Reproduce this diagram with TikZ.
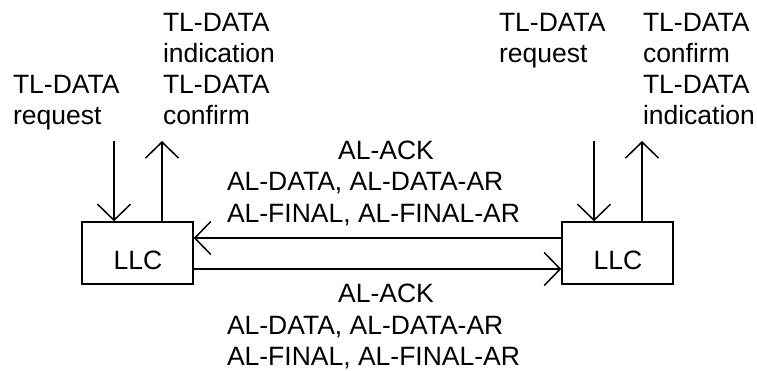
\documentclass[tikz,border=0pt]{standalone}
\usepackage{fontspec}
\setmainfont{Liberation Sans}
\usetikzlibrary{arrows.meta}
\begin{document}
\begin{tikzpicture}[x=1pt,y=-1pt,
  lbl/.style={inner sep=0pt,outer sep=0pt,font=\fontsize{26.5}{31}\selectfont,anchor=base west},
  lblc/.style={lbl,anchor=base},
  llcbox/.style={draw,line width=1.5pt,inner sep=0pt},
  flow/.style={line width=1.5pt,-{Straight Barb[length=16pt,width=33pt,line width=1.5pt]}}]
\useasboundingbox (0,0) rectangle (757,370);
% boxes
\node[llcbox,minimum width=111pt,minimum height=62pt] (L) at (137.5,253) {};
\node[llcbox,minimum width=111pt,minimum height=62pt] (R) at (617.5,253) {};
\node[lblc] (Lt) at (138,269) {LLC};
\node[lblc] (Rt) at (618,269) {LLC};
% vertical arrows
\coordinate (La) at (114,141);
\coordinate (Lb) at (162,141);
\coordinate (Ra) at (594,141);
\coordinate (Rb) at (642,141);
\draw[flow] (La) -- (La |- L.north);
\draw[flow] (Lb |- L.north) -- (Lb);
\draw[flow] (Ra) -- (Ra |- R.north);
\draw[flow] (Rb |- R.north) -- (Rb);
% horizontal arrows
\draw[flow] (R.west |- 0,238) -- (L.east |- 0,238);
\draw[flow] (L.east |- 0,269) -- (R.west |- 0,269);
% left labels
\node[lbl] (l1a) at (13,93) {TL-DATA};
\node[lbl] (l1b) at (13,124) {request};
\node[lbl] (l2a) at (163,31) {TL-DATA};
\node[lbl] (l2b) at (163,62) {indication};
\node[lbl] (l2c) at (163,93) {TL-DATA};
\node[lbl] (l2d) at (163,124) {confirm};
% right labels
\node[lbl] (r1a) at (499,31) {TL-DATA};
\node[lbl] (r1b) at (499,62) {request};
\node[lbl] (r2a) at (643,31) {TL-DATA};
\node[lbl] (r2b) at (643,62) {confirm};
\node[lbl] (r2c) at (643,93) {TL-DATA};
\node[lbl] (r2d) at (643,124) {indication};
% middle labels
\node[lblc] (u1) at (386,159) {AL-ACK};
\node[lbl] (u2) at (227,190) {AL-DATA, AL-DATA-AR};
\node[lbl] (u3) at (227,222) {AL-FINAL, AL-FINAL-AR};
\node[lblc] (d1) at (386,302) {AL-ACK};
\node[lbl] (d2) at (227,334) {AL-DATA, AL-DATA-AR};
\node[lbl] (d3) at (227,365) {AL-FINAL, AL-FINAL-AR};
\end{tikzpicture}
\end{document}
